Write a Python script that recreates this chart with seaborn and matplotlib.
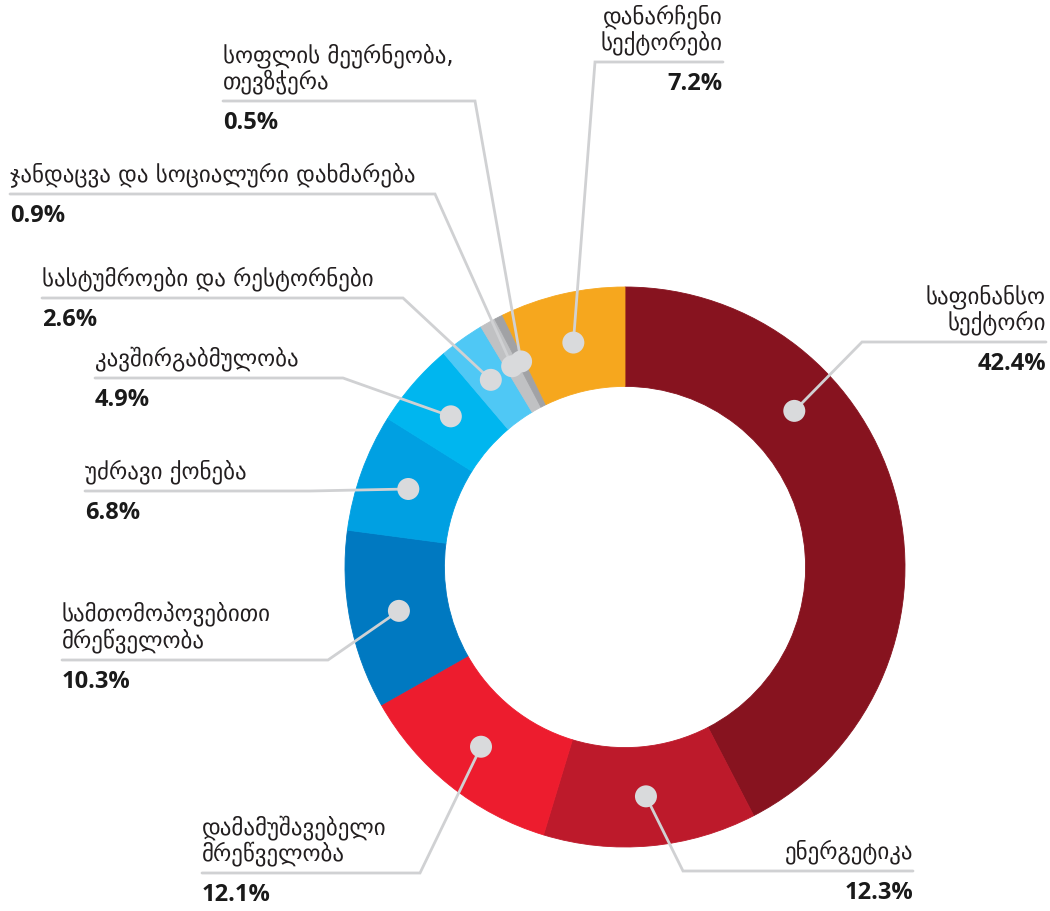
import numpy as np
import matplotlib.pyplot as plt
import seaborn as sns

# -------- DATA --------
sectors = [
    "საფინანსო\nსექტორი",
    "ენერგეტიკა",
    "დამამუშავებელი\nმრეწველობა",
    "სამთომოპოვებითი\nმრეწველობა",
    "უძრავი ქონება",
    "კავშირგაბმულობა",
    "სასტუმროები და რესტორნები",
    "ჯანდაცვა და სოციალური დახმარება",
    "სოფლის მეურნეობა,\nთევზჭერა",
    "დანარჩენი\nსექტორები",
]
shares = [42.4, 12.3, 12.1, 10.3, 6.8, 4.9, 2.6, 0.9, 0.5, 7.2]
pct_labels = [f"{v:.1f}%" for v in shares]

colors = ["#87131F", "#BD1A2B", "#ED1C2E", "#0079C1", "#00A0E2",
          "#00B6EF", "#4FC8F5", "#C0C1C3", "#A1A2A5", "#F6A71E"]

# -------- LAYOUT (pixels in the 1050x911 canvas) --------
W, H = 1050, 911
CX, CY, R = 625, 567, 280          # ring centre and outer radius
RING_W = 0.355                     # ring width as fraction of radius

# where the dot sits along its wedge (0..1), default mid
dot_frac = [0.31, 0.5, 0.5, 0.5, 0.5, 0.5, 0.5, 0.5, 0.5, 0.5]
# elbow of leader line, far end of the underline, text side
elbow = [(862, 342), (683, 871), (420, 873), (328, 660), (310, 491),
         (343, 378), (403, 298), (435, 194), (475, 101), (595, 62)]
line_end = [1046, 913, 202, 62, 85, 95, 42, 10, 223, 723]
side = ["right", "right", "left", "left", "left", "left", "left", "left", "left", "right"]


def px(x, y):
    return (x - CX) / R, (CY - y) / R


sns.set_style("white")
plt.rcParams["font.family"] = ["DejaVu Sans"]

fig = plt.figure(figsize=(W / 100, H / 100), dpi=100)
ax = fig.add_axes([0, 0, 1, 1])

wedges, _ = ax.pie(
    shares,
    colors=sns.color_palette(colors),
    startangle=90,
    counterclock=False,
    radius=1,
    wedgeprops=dict(width=RING_W, linewidth=0.6),
)
for w in wedges:
    w.set_edgecolor(w.get_facecolor())

ax.set_xlim(-CX / R, (W - CX) / R)
ax.set_ylim(-(H - CY) / R, CY / R)
ax.set_aspect("equal")
ax.axis("off")

line_col = "#D0D1D3"
dot_col = "#D9DADC"
r_mid = 1 - RING_W / 2
cum = np.concatenate([[0], np.cumsum(shares)[:-1]])

for i, name in enumerate(sectors):
    a = np.deg2rad(90 - 360 * (cum[i] + dot_frac[i] * shares[i]) / 100)
    dx, dy = r_mid * np.cos(a), r_mid * np.sin(a)
    ex, ey = px(*elbow[i])
    lx, _ = px(line_end[i], elbow[i][1])
    ax.plot([dx, ex, lx], [dy, ey, ey], color=line_col, lw=2, zorder=3,
            solid_joinstyle="miter")
    ax.add_patch(plt.Circle((dx, dy), 11 / R, color=dot_col, zorder=4, lw=0))

    ax.text(lx, ey + 7 / R, name, ha=side[i], va="bottom", fontsize=16.5,
            color="#231F20", linespacing=1.05,
            multialignment=side[i], zorder=5)
    ax.text(lx, ey - 10 / R, pct_labels[i], ha=side[i], va="top", fontsize=17,
            fontweight="bold", family=["Open Sans", "DejaVu Sans"],
            color="#1A1A1A", zorder=5)

fig.savefig("out.png", dpi=100)
